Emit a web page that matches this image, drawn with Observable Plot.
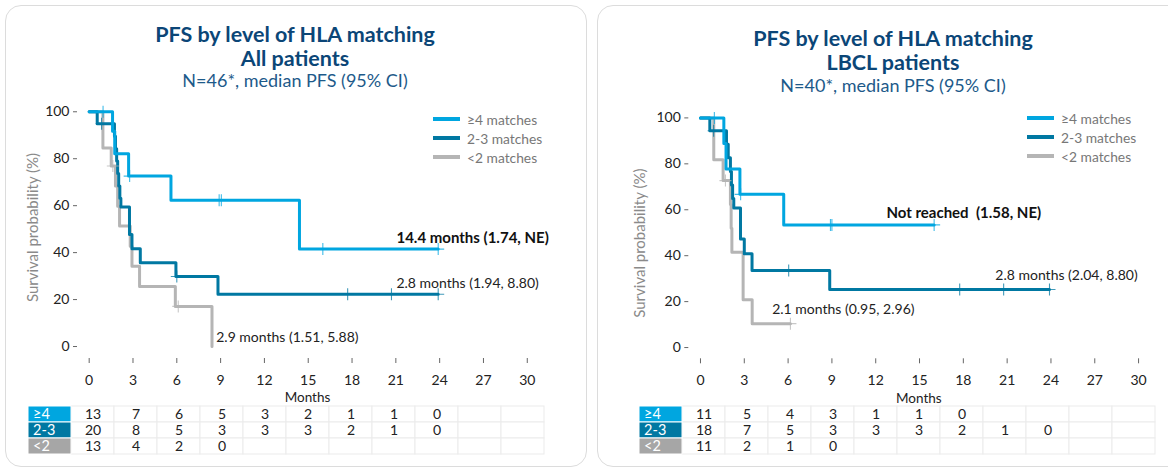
<!DOCTYPE html>
<html><head><meta charset="utf-8">
<script src="https://cdn.jsdelivr.net/npm/d3@7"></script>
<script src="https://cdn.jsdelivr.net/npm/@observablehq/plot@0.6"></script>
<style>
body{margin:0;width:1168px;height:471px;overflow:hidden;position:relative;background:#fff;font-family:Lato,"Open Sans",sans-serif;}
.card{position:absolute;top:5px;height:462px;border:1.5px solid #dcdcdc;border-radius:16px;box-sizing:border-box;}
.ttl{position:absolute;text-align:center;color:#0b4677;font-weight:700;font-size:21.5px;line-height:24px;white-space:nowrap;}
.sub{position:absolute;text-align:center;color:#1d5a8a;font-size:18px;line-height:18px;white-space:nowrap;}
.abs{position:absolute;}
.legend{position:absolute;font-size:13.8px;color:#777;}
.legend div{height:19px;display:flex;align-items:center;white-space:nowrap;}
.legend span.sw{display:inline-block;width:27px;height:4px;margin-right:7px;}
</style></head><body>
<div class="card" style="left:5px;width:582px"></div>
<div class="card" style="left:597px;width:600px"></div>
<div id="root"></div>
<script>
// ---------- shared ----------
const months = [0,3,6,9,12,15,18,21,24,27,30];
const yTicks = [0,20,40,60,80,100];
const groups = ["≥4","2-3","<2"];
const groupNames = ["≥4 matches","2-3 matches","<2 matches"];
const lineColors = ["#00a6e0","#0078a2","#b5b5b5"];
const boxColors = ["#00a6e0","#0078a2","#a6a6a6"];

// ---------- All patients ----------
const allGe4Time = [0,1.6,1.75,2.7,5.6,14.4,23.9];
const allGe4Surv = [100,91.7,82.1,72.6,62.3,41.5,41.5];
const allGe4Cens = [0.95,2.77,8.9,9.05,16.0,23.9];
const all23Time = [0,0.55,1.73,1.8,1.88,1.95,2.02,2.1,2.17,2.76,2.93,3.5,5.94,8.82,23.9];
const all23Surv = [100,94.9,89.6,84.3,79.0,73.7,68.4,63.2,59.4,47.7,41.6,35.7,29.8,22.3,22.3];
const all23Cens = [0.85,6.0,17.7,20.7,23.9];
const allLt2Time = [0,0.94,1.51,1.8,1.95,2.08,2.81,2.93,3.45,5.9,8.41];
const allLt2Surv = [100,84.6,76.9,68.4,59.8,51.3,42.7,34.2,25.6,17.1,0];
const allLt2Cens = [1.62,6.1];
const allRiskGe4 = [13,7,6,5,3,2,1,1,0];
const allRisk23 = [20,8,5,3,3,3,2,1,0];
const allRiskLt2 = [13,4,2,0];
const allNotes = [
  {x:21.04,y:46.1,text:"14.4 months (1.74, NE)",bold:true},
  {x:21.04,y:27.0,text:"2.8 months (1.94, 8.80)",bold:false},
  {x:8.7,y:4.0,text:"2.9 months (1.51, 5.88)",bold:false}
];

// ---------- LBCL patients ----------
const lbclGe4Time = [0,1.6,1.75,2.7,5.7,16.0];
const lbclGe4Surv = [100,88.9,77.8,66.7,53.4,53.4];
const lbclGe4Cens = [0.95,2.75,8.9,9.0,16.0];
const lbcl23Time = [0,0.64,1.78,1.9,2.05,2.12,2.2,2.28,2.74,3.0,3.53,8.85,23.9];
const lbcl23Surv = [100,94.4,88.5,82.6,76.7,70.8,64.9,60.8,47.3,40.8,33.5,25.3,25.3];
const lbcl23Cens = [0.9,6.04,17.75,20.76,23.9];
const lbclLt2Time = [0,0.91,1.55,2.05,2.1,2.15,2.92,3.54,6.16];
const lbclLt2Surv = [100,81.8,72.7,62.3,51.9,41.5,20.8,10.4,10.4];
const lbclLt2Cens = [1.71,6.16];
const lbclRiskGe4 = [11,5,4,3,1,1,0];
const lbclRisk23 = [18,7,5,3,3,3,2,1,0];
const lbclRiskLt2 = [11,2,1,0];
const lbclNotes = [
  {x:12.73,y:58.5,text:"Not reached  (1.58, NE)",bold:true},
  {x:20.19,y:31.3,text:"2.8 months (2.04, 8.80)",bold:false},
  {x:4.91,y:16.4,text:"2.1 months (0.95, 2.96)",bold:false}
];

// ---------- helpers ----------
function survAt(T,S,t){let s=S[0];for(let i=0;i<T.length;i++) if(T[i]<=t) s=S[i];return s;}
function curves(series){
  const lines=[], cens=[];
  series.forEach(([T,S,C],gi)=>{
    T.forEach((t,i)=>lines.push({group:groups[gi],t,s:S[i]}));
    C.forEach(t=>cens.push({group:groups[gi],t,s:survAt(T,S,t)}));
  });
  return {lines,cens};
}
const plusSymbol = {draw(ctx,size){const r=Math.sqrt(size/Math.PI);ctx.moveTo(0,-r);ctx.lineTo(0,r);ctx.moveTo(-r,0);ctx.lineTo(r,0);}};

function kmPlot({series,notes,width,height,mL,mR,mT,mB,xDom,yDom,labelDx,labelDy}){
  const {lines,cens}=curves(series);
  const order=[2,1,0];
  return Plot.plot({
    width,height,marginLeft:mL,marginRight:mR,marginTop:mT,marginBottom:mB,
    style:{background:"transparent",fontFamily:"Lato, sans-serif",fontSize:"14px",color:"#222",overflow:"visible"},
    x:{domain:xDom},
    y:{domain:yDom},
    color:{domain:groups,range:lineColors},
    marks:[
      Plot.axisX({ticks:months,tickSize:5,tickPadding:11.5,line:true,stroke:"#666",fill:"#222",fontSize:14,label:null,tickFormat:d=>String(d)}),
      Plot.axisY({ticks:yTicks,tickSize:4,tickPadding:4,line:true,stroke:"#666",fill:"#222",fontSize:14,label:null}),
      Plot.text(["Months"],{frameAnchor:"bottom",textAnchor:"middle",lineAnchor:"middle",dy:39.5,fill:"#222",fontSize:13.5}),
      Plot.text(["Survival probability (%)"],{frameAnchor:"left",textAnchor:"middle",lineAnchor:"middle",rotate:-90,dx:labelDx,dy:labelDy,fill:"#8a8a8a",fontSize:15}),
      ...order.map(gi=>Plot.line(lines.filter(d=>d.group===groups[gi]),{x:"t",y:"s",stroke:"group",curve:"step-after",strokeWidth:3})),
      ...order.map(gi=>Plot.dot(cens.filter(d=>d.group===groups[gi]),{x:"t",y:"s",stroke:"group",symbol:plusSymbol,r:6,strokeWidth:1.1,strokeOpacity:0.75})),
      Plot.text(notes.filter(d=>d.bold),{x:"x",y:"y",text:"text",textAnchor:"start",fontWeight:"bold",fontSize:15,fill:"#111"}),
      Plot.text(notes.filter(d=>!d.bold),{x:"x",y:"y",text:"text",textAnchor:"start",fontSize:14,fill:"#222"})
    ]
  });
}

function riskPlot({risks,width,height,xRange,yRange}){
  const cols=months.map(String);
  const grid=[];groups.forEach(g=>cols.forEach(c=>grid.push({group:g,col:c})));
  const vals=[];risks.forEach((arr,gi)=>arr.forEach((n,i)=>vals.push({group:groups[gi],col:cols[i],n})));
  const bw=(xRange[1]-xRange[0])/(cols.length+1);
  return Plot.plot({
    width,height,margin:0,
    style:{background:"transparent",fontFamily:"Lato, sans-serif",fontSize:"14px",color:"#222",overflow:"visible"},
    x:{type:"band",domain:["lbl",...cols],range:xRange,padding:0,axis:null},
    y:{type:"band",domain:groups,range:yRange,padding:0,axis:null},
    color:{domain:groups,range:boxColors},
    marks:[
      Plot.cell(grid,{x:"col",y:"group",fill:"white",stroke:"#ebebeb",inset:0}),
      Plot.cell(groups,{x:()=>"lbl",y:d=>d,fill:d=>d,stroke:"white",strokeWidth:1,inset:0}),
      Plot.text(groups,{x:()=>"lbl",y:d=>d,text:d=>d,fill:"white",textAnchor:"start",dx:-bw/2+5,fontSize:14.5}),
      Plot.text(vals,{x:"col",y:"group",text:"n",fill:"#222",fontSize:14})
    ]
  });
}

function place(node,left,top){const d=document.createElement("div");d.className="abs";d.style.left=left+"px";d.style.top=top+"px";d.appendChild(node);document.getElementById("root").appendChild(d);}
function html(cls,left,top,width,htmlText){const d=document.createElement("div");d.className=cls;d.style.left=left+"px";d.style.top=top+"px";d.style.width=width+"px";d.innerHTML=htmlText;document.getElementById("root").appendChild(d);}
function legend(left,top){
  const d=document.createElement("div");d.className="legend";d.style.left=left+"px";d.style.top=top+"px";
  d.innerHTML=groupNames.map((n,i)=>`<div><span class="sw" style="background:${lineColors[i]}"></span>${n}</div>`).join("");
  document.getElementById("root").appendChild(d);
}

// ---------- left panel ----------
place(kmPlot({series:[[allGe4Time,allGe4Surv,allGe4Cens],[all23Time,all23Surv,all23Cens],[allLt2Time,allLt2Surv,allLt2Cens]],
  notes:allNotes,width:590,height:405,mL:77,mR:53,mT:100,mB:47,xDom:[-0.8,30.7],yDom:[-5.1,104.8],labelDx:-44,labelDy:-2}),0,0);
place(riskPlot({risks:[allRiskGe4,allRisk23,allRiskLt2],width:590,height:60,xRange:[23.3,548.6],yRange:[5,54.5]}),0,400);
html("ttl",5,22,580,"PFS by level of HLA matching<br>All patients");
html("sub",5,71,580,"N=46*, median PFS (95% CI)");
legend(433,109.5);

// ---------- right panel ----------
place(kmPlot({series:[[lbclGe4Time,lbclGe4Surv,lbclGe4Cens],[lbcl23Time,lbcl23Surv,lbcl23Cens],[lbclLt2Time,lbclLt2Surv,lbclLt2Cens]],
  notes:lbclNotes,width:568,height:405,mL:88.3,mR:19.7,mT:105,mB:46.7,xDom:[-0.8,30.7],yDom:[-4.9,105.4],labelDx:-49,labelDy:11}),600,0);
place(riskPlot({risks:[lbclRiskGe4,lbclRisk23,lbclRiskLt2],width:568,height:60,xRange:[34.25,560.2],yRange:[5,54.5]}),600,400);
html("ttl",597,26,592,"PFS by level of HLA matching<br>LBCL patients");
html("sub",597,76,592,"N=40*, median PFS (95% CI)");
legend(1027,108.5);
</script>
</body></html>
